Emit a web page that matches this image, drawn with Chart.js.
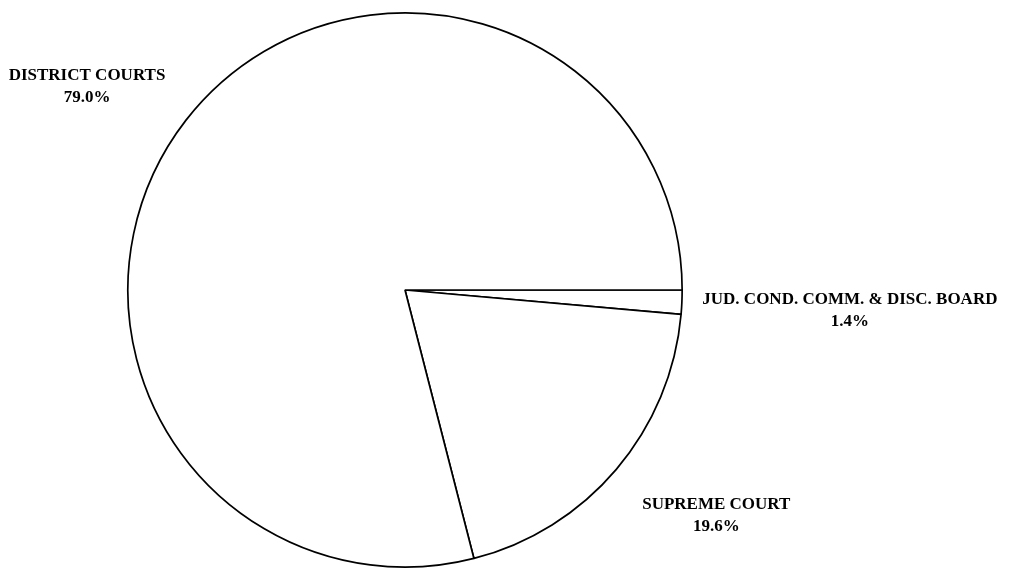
<!DOCTYPE html>
<html>
<head>
<meta charset="utf-8">
<script src="https://cdn.jsdelivr.net/npm/chart.js@4/dist/chart.umd.min.js"></script>
<style>
  html, body { margin: 0; padding: 0; background: #fff; }
  #wrap { width: 1009px; height: 571px; position: relative; }
</style>
</head>
<body>
<div id="wrap"><canvas id="courtPie"></canvas></div>
<script>
// Slices go clockwise from 3 o'clock
var categories = ['JUD. COND. COMM. & DISC. BOARD', 'SUPREME COURT', 'DISTRICT COURTS'];
var shares = [1.4, 19.6, 79.0];

// label nudges (dx, dy) from the rim point at each slice's middle angle
var labelOffsets = [[168, 8], [100, 46], [-99, -34]];

var sliceLabels = {
    id: 'sliceLabels',
    afterDatasetsDraw: function(chart) {
        var ctx = chart.ctx;
        var arcs = chart.getDatasetMeta(0).data;
        ctx.save();
        ctx.fillStyle = '#000';
        ctx.font = 'bold 17px "Liberation Serif", "Times New Roman", serif';
        ctx.textAlign = 'center';
        ctx.textBaseline = 'middle';
        arcs.forEach(function(arc, i) {
            var mid = (arc.startAngle + arc.endAngle) / 2;
            var x = arc.x + Math.cos(mid) * arc.outerRadius + labelOffsets[i][0];
            var y = arc.y + Math.sin(mid) * arc.outerRadius + labelOffsets[i][1];
            ctx.fillText(categories[i], x, y - 11);
            ctx.fillText(shares[i].toFixed(1) + '%', x, y + 11);
        });
        ctx.restore();
    }
};

var pie = new Chart(document.getElementById('courtPie'), {
    type: 'pie',
    data: {
        labels: categories,
        datasets: [{
            data: shares,
            backgroundColor: '#ffffff',
            borderColor: '#000000',
            borderWidth: 1.7
        }]
    },
    options: {
        responsive: true,
        maintainAspectRatio: false,
        animation: false,
        rotation: 90,
        layout: { padding: { top: 12, bottom: 3, left: 127, right: 326 } },
        plugins: {
            legend: { display: false },
            tooltip: { enabled: false }
        }
    },
    plugins: [sliceLabels]
});
</script>
</body>
</html>
